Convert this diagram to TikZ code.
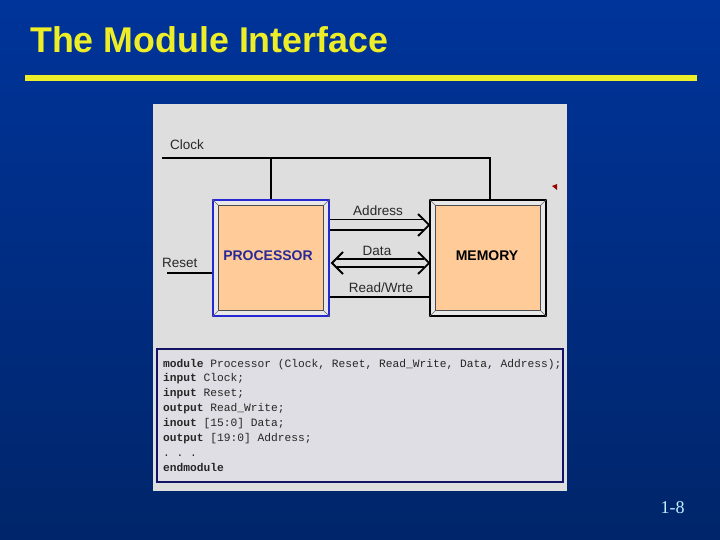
\documentclass[tikz,border=0pt]{standalone}
\usepackage{fontspec}
\setmainfont{Liberation Sans}
\newfontfamily\codefont{Liberation Mono}
\newfontfamily\numfont{Liberation Serif}
\usetikzlibrary{calc}
\definecolor{bgtop}{RGB}{0,52,154}
\definecolor{bgbot}{RGB}{0,37,106}
\definecolor{titleyel}{RGB}{238,238,40}
\definecolor{panelgray}{RGB}{222,222,222}
\definecolor{boxorange}{RGB}{255,204,153}
\definecolor{bevelgray}{RGB}{232,232,232}
\definecolor{procblue}{RGB}{40,40,210}
\definecolor{proctext}{RGB}{40,40,150}
\definecolor{codeborder}{RGB}{20,20,100}
\definecolor{codefill}{RGB}{222,222,228}
\definecolor{pagecyan}{RGB}{195,240,255}
\definecolor{labelgray}{RGB}{40,40,40}
\tikzset{
  wire/.style={line width=1.8pt, draw=black},
  outerbox/.style={draw, line width=1.8pt, fill=bevelgray, minimum width=116pt, minimum height=116pt, inner sep=0pt},
  innerbox/.style={draw=black!70, line width=0.5pt, fill=boxorange, minimum width=105pt, minimum height=105pt, inner sep=0pt},
  lbl/.style={font=\fontsize{13.5}{15}\selectfont, text=labelgray, inner sep=0pt},
  boxtext/.style={font=\fontsize{14}{16}\selectfont\bfseries, inner sep=0pt},
  codeline/.style={anchor=base west, inner sep=0pt, font=\codefont\fontsize{11.25}{13}\selectfont, text=black!85},
}
\begin{document}
\begin{tikzpicture}[x=1pt,y=-1pt]
\useasboundingbox (0,0) rectangle (720,540);
\shade[top color=bgtop, bottom color=bgbot] (0,0) rectangle (720,540);
% title
\node[anchor=base west, inner sep=0pt, text=titleyel, font=\fontsize{35.8}{40}\selectfont\bfseries] (title) at (30,53) {The Module Interface};
\fill[titleyel] (25,75) rectangle (697,81);
% panel
\fill[panelgray] (153,104) rectangle (567,491);
% processor
\node[outerbox, draw=procblue] (proc) at (271,258) {};
\node[innerbox] (proci) at (proc.center) {};
\foreach \c in {north west, north east, south west, south east}
  \draw[black!60, line width=0.5pt] (proc.\c) -- (proci.\c);
\node[boxtext, text=proctext] (proct) at (268,256) {PROCESSOR};
% memory
\node[outerbox, draw=black] (mem) at (488,258) {};
\node[innerbox] (memi) at (mem.center) {};
\foreach \c in {north west, north east, south west, south east}
  \draw[black!60, line width=0.5pt] (mem.\c) -- (memi.\c);
\node[boxtext, text=black] (memt) at (487,256) {MEMORY};
% clock
\node[lbl, anchor=west] (clk) at (170,145) {Clock};
\coordinate (clkL) at (162,158);
\coordinate (clkR) at (490,158);
\draw[wire] (clkL) -- (clkR) -- (clkR |- mem.north);
\draw[wire] (proc.north) -- (proc.north |- clkL);
% reset
\node[lbl, anchor=west] (rst) at (162,263) {Reset};
\coordinate (rstL) at (167,273);
\draw[wire] (rstL) -- (rstL -| proc.west);
% address bus
\node[lbl] (addr) at (378,211) {Address};
\draw[wire] (proc.east |- 0,219.5) -- (424,219.5);
\draw[wire] (proc.east |- 0,230) -- (424,230);
\draw[wire] (418,214) -- (mem.west |- 0,225) -- (418,236);
% data bus
\node[lbl] (data) at (377,251) {Data};
\draw[wire] (337,259) -- (424,259);
\draw[wire] (337,267) -- (424,267);
\draw[wire] (418,252) -- (mem.west |- 0,263) -- (418,274);
\draw[wire] (343,252) -- (332,263) -- (343,274);
% read/write
\node[lbl] (rw) at (381,288) {Read/Wrte};
\draw[wire] (proc.east |- 0,297) -- (mem.west |- 0,297);
% small mark
\fill[red!60!black] (552,186) -- (557,184) -- (557,190) -- cycle;
% code box
\node[draw=codeborder, line width=1.8pt, fill=codefill, minimum width=406pt, minimum height=133pt, inner sep=0pt] (codebox) at (360,415.5) {};
\node[codeline] (c1) at (163,367) {\bfseries module\mdseries{} Processor (Clock, Reset, Read\_Write, Data, Address);};
\node[codeline] (c2) at (163,381.9) {\bfseries input\mdseries{} Clock;};
\node[codeline] (c3) at (163,396.8) {\bfseries input\mdseries{} Reset;};
\node[codeline] (c4) at (163,411.7) {\bfseries output\mdseries{} Read\_Write;};
\node[codeline] (c5) at (163,426.6) {\bfseries inout\mdseries{} [15:0] Data;};
\node[codeline] (c6) at (163,441.5) {\bfseries output\mdseries{} [19:0] Address;};
\node[codeline] (c7) at (163,456.4) {.~.~.};
\node[codeline] (c8) at (163,471.3) {\bfseries endmodule};
% page number
\node[anchor=base, inner sep=0pt, text=pagecyan, font=\numfont\fontsize{18}{20}\selectfont] (pg) at (672.5,513) {1-8};
\end{tikzpicture}
\end{document}
